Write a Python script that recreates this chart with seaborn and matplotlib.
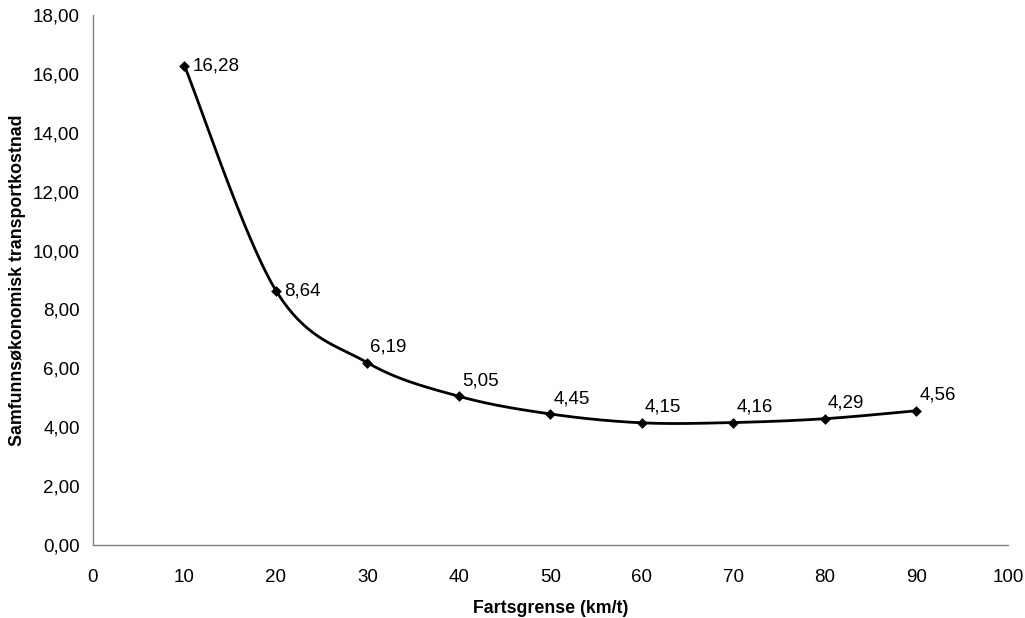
import numpy as np
import pandas as pd
import matplotlib
matplotlib.use("Agg")
import matplotlib.pyplot as plt
import seaborn as sns
from matplotlib.ticker import FuncFormatter, MultipleLocator

speed = [10, 20, 30, 40, 50, 60, 70, 80, 90]
cost = [16.28, 8.64, 6.19, 5.05, 4.45, 4.15, 4.16, 4.29, 4.56]
x_label = "Fartsgrense (km/t)"
y_label = "Samfunnsøkonomisk transportkostnad"

sns.set_style("white")
plt.rcParams["font.family"] = ["Liberation Sans", "DejaVu Sans"]


def catmull_rom(xs, ys, n=40, tension=0.5):
    # Excel-like smoothed line rendering through the data points
    xs = np.asarray(xs, float)
    ys = np.asarray(ys, float)
    px = np.concatenate([[xs[0]], xs, [xs[-1]]])
    py = np.concatenate([[ys[0]], ys, [ys[-1]]])
    ox, oy = [], []
    for i in range(1, len(px) - 2):
        p0 = np.array([px[i - 1], py[i - 1]])
        p1 = np.array([px[i], py[i]])
        p2 = np.array([px[i + 1], py[i + 1]])
        p3 = np.array([px[i + 2], py[i + 2]])
        c1 = p1 + (p2 - p0) * tension / 3
        c2 = p2 - (p3 - p1) * tension / 3
        t = np.linspace(0, 1, n)[:, None]
        b = ((1 - t) ** 3) * p1 + 3 * ((1 - t) ** 2) * t * c1 + 3 * (1 - t) * t ** 2 * c2 + t ** 3 * p2
        ox.extend(b[:, 0])
        oy.extend(b[:, 1])
    return np.array(ox), np.array(oy)


fig = plt.figure(figsize=(10.25, 6.18), dpi=100)
ax = fig.add_axes([0.0907, 0.1181, 0.8927, 0.8576])

sx, sy = catmull_rom(speed, cost)
smooth = pd.DataFrame({"x": sx, "y": sy})
df = pd.DataFrame({"speed": speed, "cost": cost})

sns.lineplot(data=smooth, x="x", y="y", sort=False, color="black", linewidth=2, ax=ax)
sns.scatterplot(data=df, x="speed", y="cost", marker="D", s=30, color="black",
                edgecolor="black", linewidth=0, ax=ax, zorder=3)

for i, (xv, yv) in enumerate(zip(speed, cost)):
    lbl = f"{yv:.2f}".replace(".", ",")
    if i < 2:
        ax.annotate(lbl, (xv, yv), xytext=(6, 0), textcoords="offset points",
                    ha="left", va="center", fontsize=13.5, color="black")
    else:
        ax.annotate(lbl, (xv, yv), xytext=(2, 5), textcoords="offset points",
                    ha="left", va="bottom", fontsize=13.5, color="black")

ax.set_xlim(0, 100)
ax.set_ylim(0, 18)
ax.xaxis.set_major_locator(MultipleLocator(10))
ax.yaxis.set_major_locator(MultipleLocator(2))
ax.yaxis.set_major_formatter(FuncFormatter(lambda v, p: f"{v:.2f}".replace(".", ",")))
ax.xaxis.set_major_formatter(FuncFormatter(lambda v, p: f"{v:.0f}"))

for s in ["top", "right"]:
    ax.spines[s].set_visible(False)
for s in ["left", "bottom"]:
    ax.spines[s].set_color("#808080")
    ax.spines[s].set_linewidth(1)
ax.tick_params(axis="both", which="major", direction="out", length=4.5, width=1,
               color="#808080", labelsize=13.5, labelcolor="black")
ax.tick_params(axis="y", pad=5)
ax.tick_params(axis="x", pad=13)

ax.set_xlabel(x_label, fontsize=12.8, fontweight="bold", labelpad=10, color="black")
ax.set_ylabel(y_label, fontsize=12.8, fontweight="bold", labelpad=5, color="black")

fig.savefig("out.png", dpi=100)
